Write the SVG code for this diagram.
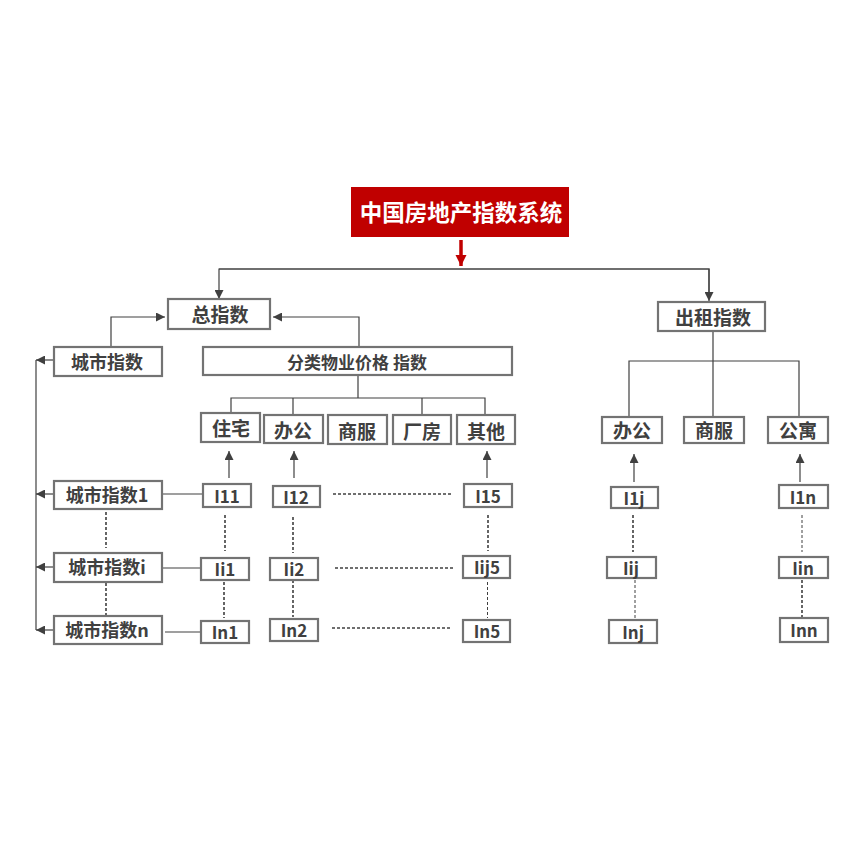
<svg xmlns="http://www.w3.org/2000/svg" width="858" height="858" viewBox="0 0 858 858">
<defs>
<style>
.box{fill:#fff;stroke:#737373;stroke-width:2.2}
.t{font-family:"Noto Sans CJK SC","Microsoft YaHei",sans-serif;font-weight:bold;fill:#404040;text-anchor:middle;dominant-baseline:central}
.l{font-size:19px}
.k{font-size:18px}
.m{font-size:17px}
.s{font-size:17px}
.c{fill:none;stroke:#404040;stroke-width:1.2}
.d{fill:none;stroke:#404040;stroke-width:1.6;stroke-dasharray:3 2}
.dt{fill:none;stroke:#404040;stroke-width:1;stroke-dasharray:3 2}
</style>
<marker id="ah" viewBox="0 0 10 10" refX="10" refY="5" markerWidth="9" markerHeight="9" markerUnits="userSpaceOnUse" orient="auto">
<path d="M0,0 L10,5 L0,10 Z" fill="#404040"/>
</marker>
<marker id="rh" viewBox="0 0 10 10" refX="10" refY="5" markerWidth="11" markerHeight="12" markerUnits="userSpaceOnUse" orient="auto">
<path d="M0,0 L10,5 L0,10 Z" fill="#C00000"/>
</marker>
</defs>
<rect width="858" height="858" fill="#fff"/>

<g id="connectors">
<line x1="461" y1="240" x2="461" y2="266" stroke="#C00000" stroke-width="3.5" marker-end="url(#rh)"/>
<path class="c" d="M709,299 V269 H219 V299" marker-end="url(#ah)"/>
<path class="c" d="M219,269 H709 V301" marker-end="url(#ah)"/>
<path class="c" d="M111,347 V317 H165" marker-end="url(#ah)"/>
<path class="c" d="M359,347 V317 H273" marker-end="url(#ah)"/>
<path class="c" d="M358,375 V398 M231,413 V398 H485 V415 M293,398 V415 M422,398 V415"/>
<path class="c" d="M713,331 V417 M629,417 V361 H799 V417"/>
<line class="c" x1="229" y1="478" x2="229" y2="451" marker-end="url(#ah)"/>
<line class="c" x1="294" y1="478" x2="294" y2="451" marker-end="url(#ah)"/>
<line class="c" x1="487" y1="478" x2="487" y2="451" marker-end="url(#ah)"/>
<line class="c" x1="634" y1="482" x2="634" y2="454" marker-end="url(#ah)"/>
<line class="c" x1="800" y1="482" x2="800" y2="454" marker-end="url(#ah)"/>
<path class="c" d="M36,360 V630"/>
<line class="c" x1="54" y1="360" x2="36" y2="360" marker-end="url(#ah)"/>
<line class="c" x1="54" y1="494" x2="36" y2="494" marker-end="url(#ah)"/>
<line class="c" x1="54" y1="567" x2="36" y2="567" marker-end="url(#ah)"/>
<line class="c" x1="54" y1="630" x2="36" y2="630" marker-end="url(#ah)"/>
<path class="c" d="M162,494 H203 M162,568 H201 M165,632 H201"/>
<path class="d" d="M333,494 H453 M335,568 H455 M332,628 H452"/>
<path class="d" d="M106,512 V548 M106,583 V617"/>
<path class="d" d="M225,515 V551 M224,582 V618"/>
<path class="d" d="M293,517 V553 M293,580 V617"/>
<path class="d" d="M488,515 V551"/>
<path class="dt" d="M487.5,582 V618"/>
<path class="d" d="M633,515 V552"/>
<path class="dt" d="M635,580 V619"/>
<path class="dt" d="M802,515 V552"/>
<path class="d" d="M802,580 V618"/>
</g>

<g id="title"><rect x="351" y="187" width="218" height="50" fill="#C00000"/><text class="t" x="461" y="211" style="font-size:22.5px;fill:#fff">中国房地产指数系统</text></g>
<g id="zong"><rect class="box" x="168" y="299" width="102" height="30"/><text class="t l" x="220" y="313">总指数</text></g>
<g id="chuzu"><rect class="box" x="658" y="302" width="107" height="29"/><text class="t l" x="713" y="316">出租指数</text></g>
<g id="chengshi"><rect class="box" x="54" y="347" width="108" height="29"/><text class="t k" x="107" y="361">城市指数</text></g>
<g id="fenlei"><rect class="box" x="203" y="347" width="309" height="28"/><text class="t m" x="357" y="361">分类物业价格 指数</text></g>
<g id="zhuzhai"><rect class="box" x="201" y="413" width="59" height="29"/><text class="t l" x="231" y="427">住宅</text></g>
<g id="bangong"><rect class="box" x="264" y="415" width="59" height="28"/><text class="t l" x="293" y="429">办公</text></g>
<g id="shangfu"><rect class="box" x="328" y="415" width="59" height="29"/><text class="t l" x="357" y="430">商服</text></g>
<g id="changfang"><rect class="box" x="393" y="415" width="58" height="29"/><text class="t l" x="422" y="430">厂房</text></g>
<g id="qita"><rect class="box" x="457" y="415" width="58" height="29"/><text class="t l" x="486" y="430">其他</text></g>
<g id="bangong2"><rect class="box" x="602" y="417" width="60" height="26"/><text class="t l" x="632" y="429">办公</text></g>
<g id="shangfu2"><rect class="box" x="684" y="417" width="60" height="26"/><text class="t l" x="714" y="429">商服</text></g>
<g id="gongyu"><rect class="box" x="768" y="417" width="60" height="26"/><text class="t l" x="798" y="429">公寓</text></g>
<g id="cs1"><rect class="box" x="54" y="481" width="108" height="28"/><text class="t k" x="107" y="494">城市指数1</text></g>
<g id="csi"><rect class="box" x="54" y="553" width="108" height="29"/><text class="t k" x="107" y="566">城市指数i</text></g>
<g id="csn"><rect class="box" x="54" y="616" width="108" height="28"/><text class="t k" x="107" y="629">城市指数n</text></g>
<g id="I11"><rect class="box" x="203" y="484" width="48" height="23"/><text class="t s" x="227" y="495">I11</text></g>
<g id="I12"><rect class="box" x="273" y="486" width="47" height="21"/><text class="t s" x="296" y="496">I12</text></g>
<g id="I15"><rect class="box" x="464" y="484" width="48" height="23"/><text class="t s" x="488" y="495">I15</text></g>
<g id="Ii1"><rect class="box" x="201" y="558" width="48" height="22"/><text class="t s" x="225" y="568">Ii1</text></g>
<g id="Ii2"><rect class="box" x="270" y="558" width="48" height="22"/><text class="t s" x="294" y="568">Ii2</text></g>
<g id="Iij5"><rect class="box" x="463" y="556" width="47" height="22"/><text class="t s" x="487" y="566">Iij5</text></g>
<g id="In1"><rect class="box" x="201" y="621" width="48" height="22"/><text class="t s" x="225" y="631">In1</text></g>
<g id="In2"><rect class="box" x="270" y="619" width="48" height="22"/><text class="t s" x="294" y="629">In2</text></g>
<g id="In5"><rect class="box" x="463" y="620" width="47" height="22"/><text class="t s" x="487" y="630">In5</text></g>
<g id="I1j"><rect class="box" x="611" y="487" width="47" height="21"/><text class="t s" x="634" y="497">I1j</text></g>
<g id="Iij"><rect class="box" x="607" y="557" width="49" height="21"/><text class="t s" x="631" y="567">Iij</text></g>
<g id="Inj"><rect class="box" x="609" y="620" width="48" height="23"/><text class="t s" x="633" y="631">Inj</text></g>
<g id="I1n"><rect class="box" x="779" y="485" width="49" height="23"/><text class="t s" x="803" y="496">I1n</text></g>
<g id="Iin"><rect class="box" x="779" y="557" width="49" height="21"/><text class="t s" x="803" y="567">Iin</text></g>
<g id="Inn"><rect class="box" x="780" y="618" width="48" height="24"/><text class="t s" x="804" y="629">Inn</text></g>
</svg>
